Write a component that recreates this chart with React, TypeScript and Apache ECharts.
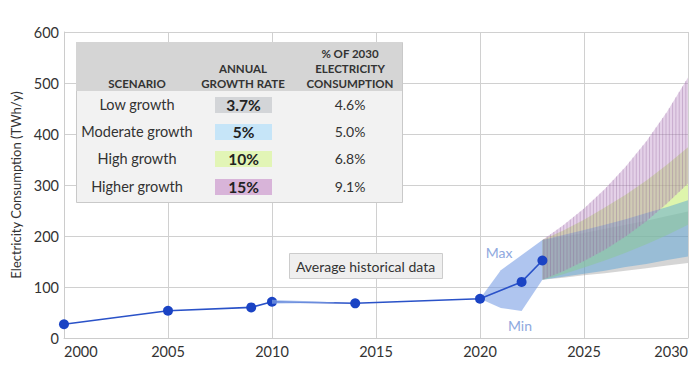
import React, { useEffect, useRef } from "react";
import * as echarts from "echarts";

const histYears = [2000, 2005, 2009, 2010, 2014, 2020, 2022, 2023];
const histValues = [27, 53.5, 60, 71, 68, 77, 110, 152];

const rangeUpperYears = [2020, 2021, 2023];
const rangeUpper = [77, 133, 192];
const rangeLowerYears = [2020, 2021, 2022, 2023];
const rangeLower = [77, 59, 53, 114];

const avgBandYears = [2010, 2013];
const avgBandUpper = [75, 70];
const avgBandLower = [67, 69];

const projYears = [2023, 2024, 2025, 2026, 2027, 2028, 2029, 2030];
const low37 = [114, 118, 123, 127, 132, 137, 142, 147];
const high37 = [192, 199, 206, 214, 222, 230, 239, 248];
const low5 = [114, 120, 126, 132, 139, 145, 153, 160];
const high5 = [192, 202, 212, 222, 233, 245, 257, 270];
const low10 = [114, 125, 138, 152, 167, 184, 202, 222];
const high10 = [192, 211, 232, 256, 281, 309, 340, 374];
const low15 = [114, 131, 151, 173, 199, 229, 264, 303];
const high15 = [192, 221, 254, 292, 336, 386, 444, 511];

const scenarios = ["Low growth", "Moderate growth", "High growth", "Higher growth"];
const growthRates = ["3.7%", "5%", "10%", "15%"];
const shares2030 = ["4.6%", "5.0%", "6.8%", "9.1%"];
const rateBoxColors = ["#d3d5d8", "#c6e5f8", "#e2f5b6", "#d8b4d9"];

const FONT = "Lato, 'Open Sans', sans-serif";

function interp(pts: number[][], x: number) {
  for (let i = 0; i < pts.length - 1; i++) {
    const a = pts[i];
    const b = pts[i + 1];
    if (x >= a[0] && x <= b[0]) {
      const t = b[0] === a[0] ? 0 : (x - a[0]) / (b[0] - a[0]);
      return a[1] + t * (b[1] - a[1]);
    }
  }
  return pts[pts.length - 1][1];
}

function bandSeries(
  upX: number[],
  upY: number[],
  loX: number[],
  loY: number[],
  fill: string,
  z: number,
  hatch?: string
) {
  return {
    type: "custom",
    silent: true,
    z,
    clip: true,
    data: [[upX[0], upY[0]]],
    renderItem: (params: any, api: any) => {
      if (params.dataIndex !== 0) return null;
      const up = upX.map((x, i) => api.coord([x, upY[i]]));
      const lo = loX.map((x, i) => api.coord([x, loY[i]]));
      const pts: number[][] = [...up, ...lo.slice().reverse()];
      const children: any[] = [
        { type: "polygon", shape: { points: pts }, style: { fill, stroke: "none" } },
      ];
      if (hatch) {
        const x0 = up[0][0];
        const x1 = up[up.length - 1][0];
        for (let x = x0 + 1.5; x < x1; x += 3.3) {
          children.push({
            type: "line",
            shape: { x1: x, y1: interp(up, x), x2: x, y2: interp(lo, x) },
            style: { stroke: hatch, lineWidth: 1 },
          });
        }
      }
      return { type: "group", children };
    },
  };
}

export default function App() {
  const ref = useRef<HTMLDivElement>(null);
  useEffect(() => {
    document.body.style.margin = "0";
    if (!ref.current) return;
    const chart = echarts.init(ref.current, null, { renderer: "svg" });

    const graphics: any[] = [];
    graphics.push({
      type: "rect",
      left: 76,
      top: 42,
      shape: { width: 326, height: 160 },
      style: { fill: "#f2f2f2", stroke: "#c9c9c9", lineWidth: 1 },
      z: 100,
    });
    graphics.push({
      type: "rect",
      left: 76,
      top: 42,
      shape: { width: 326, height: 49 },
      style: { fill: "#d5d5d5" },
      z: 101,
    });
    const headStyle = {
      fontFamily: FONT,
      fontWeight: "bold",
      fontSize: 11.5,
      fill: "#333",
      align: "center",
      verticalAlign: "middle",
      lineHeight: 15,
    };
    graphics.push({ type: "text", x: 137, y: 83, z: 102, style: { ...headStyle, text: "SCENARIO" } });
    graphics.push({ type: "text", x: 243, y: 75.5, z: 102, style: { ...headStyle, text: "ANNUAL\nGROWTH RATE" } });
    graphics.push({
      type: "text",
      x: 350,
      y: 68,
      z: 102,
      style: { ...headStyle, text: "% OF 2030\nELECTRICITY\nCONSUMPTION" },
    });
    const rowY = [104, 131, 158, 186];
    scenarios.forEach((s, i) => {
      graphics.push({
        type: "text",
        x: 137,
        y: rowY[i],
        z: 102,
        style: { text: s, fontFamily: FONT, fontSize: 14.5, fill: "#333", align: "center", verticalAlign: "middle" },
      });
      graphics.push({
        type: "rect",
        left: 215,
        top: rowY[i] - 7,
        shape: { width: 57, height: 16 },
        style: { fill: rateBoxColors[i] },
        z: 101,
      });
      graphics.push({
        type: "text",
        x: 243.5,
        y: rowY[i] + 1,
        z: 102,
        style: {
          text: growthRates[i],
          fontFamily: FONT,
          fontSize: 15.5,
          fontWeight: "bold",
          fill: "#222",
          align: "center",
          verticalAlign: "middle",
        },
      });
      graphics.push({
        type: "text",
        x: 350,
        y: rowY[i],
        z: 102,
        style: { text: shares2030[i], fontFamily: FONT, fontSize: 14, fill: "#333", align: "center", verticalAlign: "middle" },
      });
    });
    graphics.push({
      type: "rect",
      left: 289,
      top: 253,
      shape: { width: 153, height: 25 },
      style: { fill: "#efefef", stroke: "#cccccc", lineWidth: 1 },
      z: 100,
    });
    graphics.push({
      type: "text",
      x: 365.5,
      y: 266,
      z: 101,
      style: {
        text: "Average historical data",
        fontFamily: FONT,
        fontSize: 14,
        fill: "#333",
        align: "center",
        verticalAlign: "middle",
      },
    });
    graphics.push({
      type: "text",
      x: 499,
      y: 252,
      z: 101,
      style: { text: "Max", fontFamily: FONT, fontSize: 14, fill: "#8ea8de", align: "center", verticalAlign: "middle" },
    });
    graphics.push({
      type: "text",
      x: 520,
      y: 325,
      z: 101,
      style: { text: "Min", fontFamily: FONT, fontSize: 14, fill: "#8ea8de", align: "center", verticalAlign: "middle" },
    });

    chart.setOption({
      animation: false,
      grid: { left: 64, right: 12, top: 32, bottom: 51, containLabel: false },
      xAxis: {
        type: "value",
        min: 2000,
        max: 2030,
        interval: 5,
        axisLine: { show: true, lineStyle: { color: "#cccccc" } },
        axisTick: { show: false },
        splitLine: { show: true, lineStyle: { color: "#d0d0d0" } },
        axisLabel: {
          fontFamily: FONT,
          fontSize: 14.5,
          color: "#333",
          margin: 6,
          alignMinLabel: "left",
          alignMaxLabel: "right",
          formatter: (v: number) => String(v),
        },
      },
      yAxis: {
        type: "value",
        min: 0,
        max: 600,
        interval: 100,
        name: "Electricity Consumption (TWh/y)",
        nameLocation: "middle",
        nameGap: 41,
        nameTextStyle: { fontFamily: FONT, fontSize: 13, color: "#333" },
        axisLine: { show: true, lineStyle: { color: "#cccccc" } },
        axisTick: { show: false },
        splitLine: { show: true, lineStyle: { color: "#d0d0d0" } },
        axisLabel: { fontFamily: FONT, fontSize: 14.5, color: "#333", margin: 5 },
      },
      graphic: graphics,
      series: [
        bandSeries(projYears, high37, projYears, low37, "rgba(150,150,150,0.4)", 2),
        bandSeries(projYears, high10, projYears, low10, "rgba(190,235,90,0.5)", 3),
        bandSeries(projYears, high5, projYears, low5, "rgba(80,160,215,0.45)", 4),
        bandSeries(projYears, high15, projYears, low15, "rgba(185,135,195,0.38)", 5, "rgba(130,80,140,0.28)"),
        bandSeries(rangeUpperYears, rangeUpper, rangeLowerYears, rangeLower, "rgba(110,150,225,0.55)", 6),
        {
          type: "line",
          z: 8,
          data: histYears.map((y, i) => [y, histValues[i]]),
          symbol: "circle",
          symbolSize: 10,
          itemStyle: { color: "#1a43c4" },
          lineStyle: { color: "#2a52c8", width: 1.6 },
        },
        bandSeries(avgBandYears, avgBandUpper, avgBandYears, avgBandLower, "rgba(150,180,235,0.6)", 9),
      ],
    });
    return () => chart.dispose();
  }, []);
  return <div ref={ref} style={{ width: 700, height: 389 }} />;
}
